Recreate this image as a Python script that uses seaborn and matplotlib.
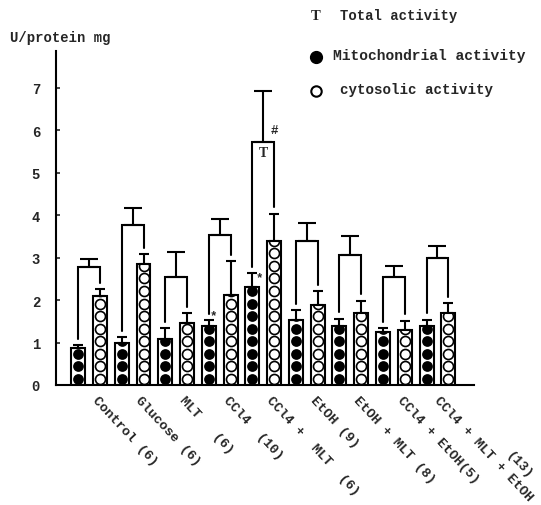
import numpy as np
import pandas as pd
import matplotlib
matplotlib.use("Agg")
import matplotlib.pyplot as plt
import matplotlib.transforms as mtransforms
from matplotlib.lines import Line2D
import seaborn as sns

# ---------------- data ----------------
groups = ["Control (6)", "Glucose (6)", "MLT   (6)", "CCl4  (10)", "CCl4 +  MLT  (6)",
          "EtOH (9)", "EtOH + MLT (8)", "CCl4 + EtOH(5)", "CCl4 + MLT + EtOH"]
last_n = "(13)"
mito = [0.87, 1.00, 1.08, 1.38, 2.30, 1.52, 1.38, 1.25, 1.38]
mito_sem = [0.06, 0.12, 0.25, 0.14, 0.33, 0.24, 0.18, 0.08, 0.16]
cyto = [2.10, 2.85, 1.46, 2.12, 3.39, 1.88, 1.69, 1.29, 1.69]
cyto_sem = [0.15, 0.23, 0.23, 0.80, 0.64, 0.33, 0.29, 0.22, 0.24]
total = [2.78, 3.77, 2.54, 3.53, 5.73, 3.39, 3.06, 2.54, 2.99]
total_sem = [0.19, 0.40, 0.59, 0.38, 1.20, 0.43, 0.45, 0.26, 0.28]
fractions = ["Mitochondrial activity", "cytosolic activity"]
yticks = [0, 1, 2, 3, 4, 5, 6, 7]

sns.set_style("white")
plt.rcParams["font.family"] = ["Liberation Mono", "DejaVu Sans"]
plt.rcParams["font.weight"] = "bold"

W, H = 541, 506
fig = plt.figure(figsize=(W / 100, H / 100), dpi=100)
ax = fig.add_axes([56 / W, 120 / H, 418 / W, 334 / H])

df = pd.DataFrame({
    "group": groups * 2,
    "fraction": [fractions[0]] * len(groups) + [fractions[1]] * len(groups),
    "activity": mito + cyto,
})

sns.barplot(data=df, x="group", y="activity", hue="fraction", hue_order=fractions,
            order=groups, palette=["white", "white"], edgecolor="black", linewidth=1.5,
            width=1.0, gap=0.36, dodge=True, legend=False, errorbar=None,
            saturation=1, ax=ax, zorder=2)

# circle fill pattern inside bars, clipped to each bar
pitch = 0.295
for p in list(ax.patches):
    xc = p.get_x() + p.get_width() / 2
    h = p.get_height()
    if h <= 0:
        continue
    ys = np.arange(pitch / 2, h + pitch / 2, pitch)
    is_mito = (xc - round(xc)) < 0
    if is_mito:
        sc = ax.scatter(np.full_like(ys, xc), ys, s=60, c="black", linewidths=0, zorder=3)
    else:
        sc = ax.scatter(np.full_like(ys, xc), ys, s=52, c="white", edgecolors="black",
                        linewidths=1.2, zorder=3)
    sc.set_clip_path(p)

x = np.arange(len(groups))
off = 0.25
zeros = np.zeros(len(groups))
ax.errorbar(x - off, mito, yerr=[zeros, mito_sem], fmt="none", ecolor="black",
            elinewidth=1.5, capsize=3.6, capthick=1.5, zorder=4)
ax.errorbar(x + off, cyto, yerr=[zeros, cyto_sem], fmt="none", ecolor="black",
            elinewidth=1.5, capsize=3.6, capthick=1.5, zorder=4)

# total activity brackets
gap = 0.15
for i in range(len(groups)):
    lx, rx = x[i] - off, x[i] + off
    ax.plot([lx, lx, rx, rx],
            [mito[i] + mito_sem[i] + gap, total[i], total[i], cyto[i] + cyto_sem[i] + gap],
            color="black", lw=1.5, zorder=4, solid_joinstyle="miter")
ax.errorbar(x, total, yerr=[zeros, total_sem], fmt="none", ecolor="black",
            elinewidth=1.5, capsize=6.5, capthick=1.5, zorder=4)

# significance marks
ax.text(3 - off + 0.1, mito[3] + mito_sem[3] + 0.12, "*", fontsize=9, ha="center", va="center")
ax.text(4 - off + 0.17, mito[4] + mito_sem[4] - 0.1, "*", fontsize=9, ha="center", va="center")
ax.text(4 + off, total[4] + 0.28, "#", fontsize=9, ha="center", va="center")
ax.text(4, total[4] - 0.26, "T", fontsize=10, ha="center", va="center",
        family=["Liberation Serif", "DejaVu Serif"])

ax.set_xlim(-0.76, 8.84)
ax.set_ylim(0, 7.86)
ax.set_yticks(yticks)
ax.set_yticklabels([str(t) for t in yticks], fontsize=10, fontweight="bold")
ax.tick_params(axis="y", direction="in", length=3, width=1.2, pad=11.5, left=True)
ax.tick_params(axis="x", length=0, pad=10.5)
ax.set_xticks(x)
rot = 47
ax.set_xticklabels(groups, rotation=-rot, ha="left", va="baseline", rotation_mode="anchor",
                   fontsize=9.7, fontweight="bold")
labels = ax.get_xticklabels()
for k, lab in enumerate(labels):
    dx = 3 if k < len(labels) - 1 else -3
    shift = mtransforms.ScaledTranslation(dx / 100, 0, fig.dpi_scale_trans)
    lab.set_transform(lab.get_transform() + shift)

# "(13)" typed one line above the last label
a = np.deg2rad(rot)
along, up = 64.0, 10.5  # points
ox = -3 * 0.72 + along * np.cos(a) + up * np.sin(a)
oy = -10.5 - along * np.sin(a) + up * np.cos(a)
ax.annotate(last_n, xy=(x[-1], 0), xycoords=ax.get_xaxis_transform(),
            xytext=(ox, oy), textcoords="offset points", rotation=-rot,
            ha="left", va="baseline", rotation_mode="anchor", fontsize=9.7,
            fontweight="bold", annotation_clip=False)

ax.set_xlabel("")
ax.set_ylabel("")
sns.despine(ax=ax)
for s in ["left", "bottom"]:
    ax.spines[s].set_linewidth(1.5)
    ax.spines[s].set_color("black")

fig.text(10 / W, 1 - 38 / H, "U/protein mg", fontsize=10, fontweight="bold",
         ha="left", va="center")

# legend
fig.text(316 / W, 1 - 16 / H, "T", fontsize=10.5, ha="center", va="center",
         family=["Liberation Serif", "DejaVu Serif"], fontweight="bold")
fig.text(340 / W, 1 - 16 / H, "Total activity", fontsize=10, ha="left", va="center")
fig.add_artist(Line2D([316 / W], [1 - 58 / H], transform=fig.transFigure, marker="o",
                      markersize=8.5, color="black", linestyle="none"))
fig.text(333 / W, 1 - 56 / H, "Mitochondrial activity", fontsize=10.5, ha="left", va="center")
fig.add_artist(Line2D([316 / W], [1 - 92 / H], transform=fig.transFigure, marker="o",
                      markersize=7.5, markerfacecolor="white", markeredgecolor="black",
                      markeredgewidth=1.5, linestyle="none"))
fig.text(340 / W, 1 - 90 / H, "cytosolic activity", fontsize=10.2, ha="left", va="center")

fig.savefig("out.png", dpi=100)
